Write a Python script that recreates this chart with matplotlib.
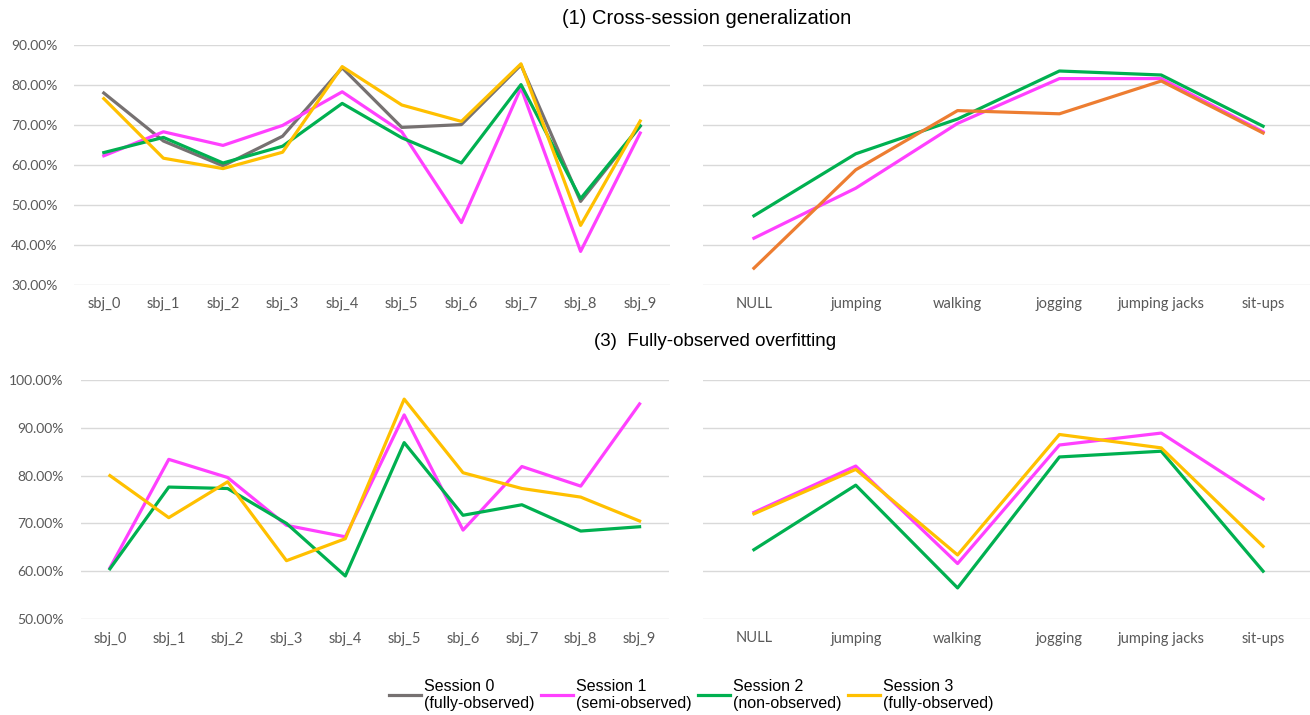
import matplotlib.pyplot as plt
from matplotlib.ticker import FuncFormatter

subjects = ['sbj_0', 'sbj_1', 'sbj_2', 'sbj_3', 'sbj_4', 'sbj_5', 'sbj_6', 'sbj_7', 'sbj_8', 'sbj_9']
activities = ['NULL', 'jumping', 'walking', 'jogging', 'jumping jacks', 'sit-ups']

# (1) cross-session generalization, per subject
cs_s0 = [78.0, 66.0, 59.8, 67.2, 84.3, 69.4, 70.1, 85.0, 50.9, 69.7]
cs_s1 = [62.3, 68.3, 64.9, 69.9, 78.3, 68.3, 45.6, 79.3, 38.4, 68.0]
cs_s2 = [63.1, 66.9, 60.5, 64.7, 75.4, 66.8, 60.5, 80.1, 51.6, 69.8]
cs_s3 = [76.6, 61.7, 59.1, 63.2, 84.6, 75.0, 70.9, 85.3, 44.9, 71.0]

# (1) per activity
cs_act_s1 = [41.7, 54.2, 70.4, 81.6, 81.6, 68.3]
cs_act_s2 = [47.3, 62.8, 71.5, 83.5, 82.5, 69.7]
cs_act_other = [34.2, 58.8, 73.6, 72.8, 81.0, 68.0]

# (3) fully-observed overfitting, per subject
fo_s1 = [60.7, 83.4, 79.6, 69.6, 67.2, 92.7, 68.6, 81.9, 77.8, 95.0]
fo_s2 = [60.5, 77.6, 77.3, 70.0, 59.0, 86.9, 71.7, 73.9, 68.4, 69.3]
fo_s3 = [80.0, 71.2, 78.7, 62.2, 66.8, 96.0, 80.6, 77.3, 75.5, 70.5]

# (3) per activity
fo_act_s1 = [72.3, 82.0, 61.6, 86.4, 88.9, 75.1]
fo_act_s2 = [64.5, 78.0, 56.5, 83.9, 85.1, 60.0]
fo_act_s3 = [72.0, 81.3, 63.4, 88.6, 85.8, 65.2]

legend_labels = ['Session 0\n(fully-observed)', 'Session 1\n(semi-observed)',
                 'Session 2\n(non-observed)', 'Session 3\n(fully-observed)']

GRAY = '#767171'
MAGENTA = '#FF40FF'
GREEN = '#00B050'
GOLD = '#FFC000'
ORANGE = '#ED7D31'
LW = 2.3

W, H = 1310, 715
fig = plt.figure(figsize=(W / 100, H / 100), dpi=100)


def make_ax(x0, x1, ytop, ybot):
    return fig.add_axes([x0 / W, 1 - ybot / H, (x1 - x0) / W, (ybot - ytop) / H])


def style(ax, ncat, lo, hi, show_y):
    ax.set_xlim(-0.5, ncat - 0.5)
    ax.set_ylim(lo, hi)
    ax.set_yticks(range(lo, hi + 1, 10))
    ax.yaxis.set_major_formatter(FuncFormatter(lambda v, p: '%.2f%%' % v))
    ax.grid(axis='y', color='#D9D9D9', linewidth=1.0, zorder=0)
    for s in ax.spines.values():
        s.set_visible(False)
    ax.tick_params(length=0, labelcolor='#595959')
    ax.tick_params(axis='x', pad=9, labelsize=10.5)
    ax.tick_params(axis='y', pad=12, labelsize=10)
    for t in ax.get_xticklabels() + ax.get_yticklabels():
        t.set_family('Lato')
    if not show_y:
        ax.tick_params(axis='y', labelleft=False)


ax1 = make_ax(74, 670, 45, 285)
ax2 = make_ax(703, 1314, 45, 285)
ax3 = make_ax(80.5, 669, 380, 619)
ax4 = make_ax(703, 1314, 380, 619)

h0, = ax1.plot(subjects, cs_s0, color=GRAY, lw=LW)
h1, = ax1.plot(subjects, cs_s1, color=MAGENTA, lw=LW)
h2, = ax1.plot(subjects, cs_s2, color=GREEN, lw=LW)
h3, = ax1.plot(subjects, cs_s3, color=GOLD, lw=LW)

ax2.plot(activities, cs_act_s1, color=MAGENTA, lw=LW)
ax2.plot(activities, cs_act_s2, color=GREEN, lw=LW)
ax2.plot(activities, cs_act_other, color=ORANGE, lw=LW)

ax3.plot(subjects, fo_s1, color=MAGENTA, lw=LW)
ax3.plot(subjects, fo_s2, color=GREEN, lw=LW)
ax3.plot(subjects, fo_s3, color=GOLD, lw=LW)

ax4.plot(activities, fo_act_s1, color=MAGENTA, lw=LW)
ax4.plot(activities, fo_act_s2, color=GREEN, lw=LW)
ax4.plot(activities, fo_act_s3, color=GOLD, lw=LW)

style(ax1, len(subjects), 30, 90, True)
style(ax2, len(activities), 30, 90, False)
style(ax3, len(subjects), 50, 100, True)
style(ax4, len(activities), 50, 100, False)

fig.text(707 / W, 1 - 19 / H, '(1) Cross-session generalization', ha='center', va='center',
         fontsize=14.5, family='Liberation Sans')
fig.text(715 / W, 1 - 341 / H, '(3)  Fully-observed overfitting', ha='center', va='center',
         fontsize=13.5, family='Liberation Sans')

fig.legend([h0, h1, h2, h3], legend_labels, loc='center', bbox_to_anchor=(691 / W, 1 - 695 / H),
           ncol=4, frameon=False, handlelength=2.0, handletextpad=0.2, columnspacing=0.4,
           labelspacing=0.3, prop={'family': 'Liberation Sans', 'size': 11.5})

fig.savefig('out.png', dpi=100)
